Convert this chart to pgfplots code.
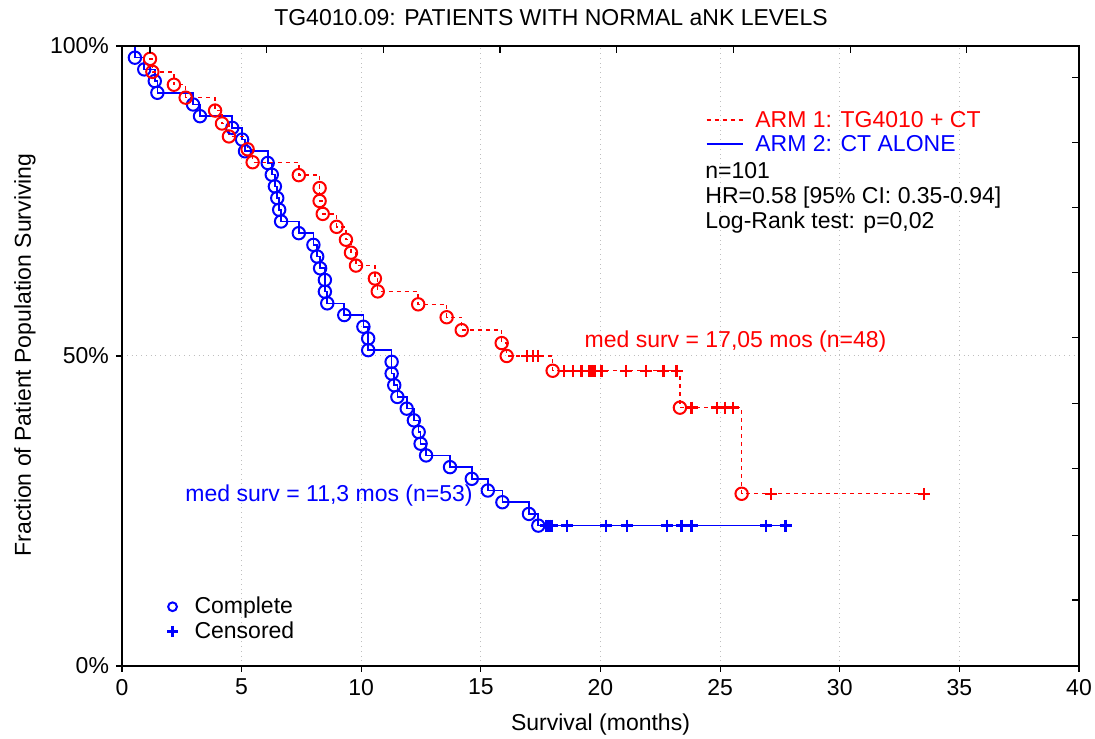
\documentclass[border=0pt]{standalone}
\usepackage{pgfplots}
\pgfplotsset{compat=1.18}
\usepackage{pgfplotstable}
\usepackage{fontspec}
\setmainfont{Liberation Sans}
\setsansfont{Liberation Sans}
\newcommand\f{\fontsize{11.5bp}{13.5bp}\selectfont}

% ARM 1 (red): events (t, survival % after the event)
\pgfplotstableread{
t s
0 100
1.17 97.917
1.27 95.833
2.17 93.750
2.66 91.667
3.89 89.583
4.18 87.500
4.47 85.417
5.25 83.333
5.46 81.250
7.39 79.167
8.26 77.083
8.26 75.000
8.39 72.917
8.97 70.833
9.36 68.750
9.57 66.667
9.78 64.583
10.57 62.500
10.69 60.417
12.38 58.333
13.57 56.250
14.20 54.167
15.87 52.083
16.08 50.000
18.00 47.619
23.32 41.667
25.90 27.778
33.52 27.778
}\redline
\pgfplotstableread{
t s
1.17 97.917
1.27 95.833
2.17 93.750
2.66 91.667
3.89 89.583
4.18 87.500
4.47 85.417
5.25 83.333
5.46 81.250
7.39 79.167
8.26 77.083
8.26 75.000
8.39 72.917
8.97 70.833
9.36 68.750
9.57 66.667
9.78 64.583
10.57 62.500
10.69 60.417
12.38 58.333
13.57 56.250
14.20 54.167
15.87 52.083
16.08 50.000
18.00 47.619
23.32 41.667
25.90 27.778
}\redevents
\pgfplotstableread{
t s
16.92 50
17.17 50
17.40 50
18.47 47.619
18.86 47.619
19.21 47.619
19.53 47.619
19.62 47.619
19.70 47.619
19.78 47.619
20.05 47.619
21.07 47.619
21.90 47.619
22.63 47.619
23.18 47.619
23.81 41.667
24.86 41.667
25.20 41.667
25.55 41.667
27.13 27.778
33.52 27.778
}\redcens

% ARM 2 (blue)
\pgfplotstableread{
t s
0 100
0.54 98.113
0.93 96.226
1.37 94.340
1.48 92.453
2.97 90.566
3.26 88.679
4.61 86.792
5.02 84.906
5.14 83.019
6.09 81.132
6.26 79.245
6.39 77.358
6.49 75.472
6.57 73.585
6.65 71.698
7.39 69.811
8.00 67.925
8.16 66.038
8.28 64.151
8.48 62.264
8.48 60.377
8.58 58.491
9.29 56.604
10.09 54.717
10.29 52.830
10.29 50.943
11.27 49.057
11.27 47.170
11.38 45.283
11.51 43.396
11.90 41.509
12.20 39.623
12.40 37.736
12.48 35.849
12.71 33.962
13.71 32.075
14.62 30.189
15.29 28.302
15.90 26.415
17.01 24.528
17.40 22.642
27.74 22.642
}\blueline
\pgfplotstableread{
t s
0.54 98.113
0.93 96.226
1.37 94.340
1.48 92.453
2.97 90.566
3.26 88.679
4.61 86.792
5.02 84.906
5.14 83.019
6.09 81.132
6.26 79.245
6.39 77.358
6.49 75.472
6.57 73.585
6.65 71.698
7.39 69.811
8.00 67.925
8.16 66.038
8.28 64.151
8.48 62.264
8.48 60.377
8.58 58.491
9.29 56.604
10.09 54.717
10.29 52.830
10.29 50.943
11.27 49.057
11.27 47.170
11.38 45.283
11.51 43.396
11.90 41.509
12.20 39.623
12.40 37.736
12.48 35.849
12.71 33.962
13.71 32.075
14.62 30.189
15.29 28.302
15.90 26.415
17.01 24.528
17.40 22.642
}\blueevents
\pgfplotstableread{
t s
17.72 22.642
17.81 22.642
17.89 22.642
17.97 22.642
18.59 22.642
20.23 22.642
21.10 22.642
22.79 22.642
23.39 22.642
23.81 22.642
26.92 22.642
27.74 22.642
}\bluecens

\begin{document}
\begin{tikzpicture}
\begin{axis}[
  at={(0,0)}, anchor=south west,
  scale only axis, width=478.5bp, height=310bp,
  xmin=0, xmax=40, ymin=0, ymax=100,
  xtick={0,5,...,40}, ytick={0,50,100}, yticklabels={0\%,50\%,100\%},
  xtick pos=bottom, ytick pos=left, tick align=outside, major tick length=3bp,
  grid=major, major grid style={black!25, dotted, line width=0.5bp},
  axis line style={black, line width=0.6bp},
  tick style={black, line width=0.6bp},
  ticklabel style={font=\f},
  /pgf/number format/assume math mode=true,
  xlabel={Survival (months)},
  ylabel={Fraction of Patient Population Surviving},
  label style={font=\f},
  xlabel style={at={(axis description cs:0.5,-0.095)}, anchor=center},
  ylabel style={at={(axis description cs:-0.1014,0.5016)}, anchor=center},
  legend style={at={(axis description cs:0.0357,0.0265)}, anchor=south west,
    draw=none, fill=none, font=\f, legend cell align=left, row sep=-1.5bp},
  legend image code/.code={\path[draw=none, fill=none] (0bp,-0.1bp) rectangle (14bp,0.1bp);
    \draw[#1] plot coordinates {(5bp,0bp)};},
]
\addlegendimage{only marks, mark=o, blue, mark size=2.2bp, line width=1bp}
\addlegendentry{Complete}
\addlegendimage{only marks, mark=+, blue, mark size=2.7bp, line width=1.2bp}
\addlegendentry{Censored}

\addplot[const plot, blue, line width=0.8bp, forget plot] table[x=t,y=s] {\blueline};
\addplot[only marks, mark=+, blue, mark size=3bp, line width=1.2bp, forget plot] table[x=t,y=s] {\bluecens};
\addplot[only marks, mark=o, blue, mark size=3.1bp, line width=1bp,
  mark options={fill=white}, forget plot] table[x=t,y=s] {\blueevents};

\addplot[const plot, red, line width=0.7bp, dash pattern=on 2bp off 2bp, forget plot] table[x=t,y=s] {\redline};
\addplot[only marks, mark=+, red, mark size=3bp, line width=1.2bp, forget plot] table[x=t,y=s] {\redcens};
\addplot[only marks, mark=o, red, mark size=3.1bp, line width=1bp,
  mark options={fill=white}, forget plot] table[x=t,y=s] {\redevents};
\end{axis}

% secondary ticks on top and right (inside)
\begin{axis}[
  at={(0,0)}, anchor=south west,
  scale only axis, width=478.5bp, height=310bp,
  xmin=0, xmax=40, ymin=0, ymax=100,
  axis x line*=top, axis y line*=right,
  axis line style={black, line width=0.6bp},
  xtick={1.17,6.05,10.93,15.8,20.68,25.56,30.44,35.31},
  ytick={10.65,21.1,31.8,42.4,53.0,63.5,74.0,84.4,94.9},
  xticklabels={}, yticklabels={},
  tick align=inside, major tick length=3.5bp,
  tick style={black, line width=0.6bp},
]
\end{axis}

% title
\node[font=\f, anchor=base] at (214.5bp,320bp) {TG4010.09: PATIENTS WITH NORMAL aNK LEVELS};

% upper-right key and statistics
\draw[red, line width=0.7bp, dash pattern=on 2bp off 2bp] (292.3bp,273bp) -- (310.7bp,273bp);
\node[font=\f, text=red, anchor=base west, inner sep=0pt] at (316.5bp,269bp) {ARM 1: TG4010 + CT};
\draw[blue, line width=0.8bp] (292.3bp,261bp) -- (310.7bp,261bp);
\node[font=\f, text=blue, anchor=base west, inner sep=0pt] at (316.5bp,257bp) {ARM 2: CT ALONE};
\node[font=\f, anchor=base west, inner sep=0pt] at (291.5bp,243.5bp) {n=101};
\node[font=\f, anchor=base west, inner sep=0pt] at (291.5bp,231bp) {HR=0.58 [95\% CI: 0.35-0.94]};
\node[font=\f, anchor=base west, inner sep=0pt] at (291.5bp,218.5bp) {Log-Rank test: p=0,02};

% medians
\node[font=\f, text=red, anchor=base, inner sep=0pt] at (306.75bp,159bp) {med surv = 17,05 mos (n=48)};
\node[font=\f, text=blue, anchor=base, inner sep=0pt] at (103.5bp,82.4bp) {med surv = 11,3 mos (n=53)};

\pgfresetboundingbox
\path[use as bounding box] (-61bp,-36.5bp) rectangle (486.5bp,333bp);
\end{tikzpicture}
\end{document}
